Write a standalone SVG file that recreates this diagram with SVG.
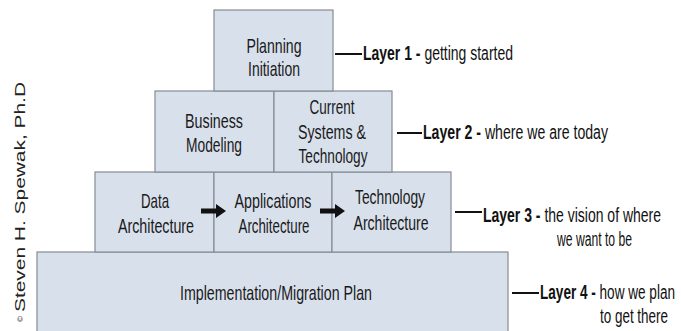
<svg xmlns="http://www.w3.org/2000/svg" width="681" height="331" viewBox="0 0 681 331">
<style>
.box{fill:#d8e0ec;stroke:#858c96;stroke-width:1.2}
.t{font-family:"Liberation Sans",Arial,sans-serif;font-size:21px;fill:#1a1a1a;text-anchor:middle}
.lbl{font-family:"Liberation Sans",Arial,sans-serif;font-size:20px;fill:#111}
.b{font-weight:bold}
.ln{stroke:#111;stroke-width:2}
.arr{fill:#111}
.cr{font-family:"Liberation Sans",Arial,sans-serif;font-size:14px;fill:#222}
</style>
<rect width="681" height="331" fill="#ffffff"/>
<g id="copyright">
<text class="cr" transform="translate(25,312) rotate(-90)" textLength="230" lengthAdjust="spacingAndGlyphs">Steven H. Spewak, Ph.D</text>
<text class="cr" style="font-size:8px" transform="translate(23,322) rotate(-90)">©</text>
</g>
<g id="layer4">
<rect class="box" x="37" y="252" width="471" height="85"/>
<text class="t" x="276" y="300" textLength="192" lengthAdjust="spacingAndGlyphs">Implementation/Migration Plan</text>
</g>
<g id="layer3-data">
<rect class="box" x="95" y="172" width="119" height="80"/>
<text class="t" x="155" y="208" textLength="28" lengthAdjust="spacingAndGlyphs">Data</text>
<text class="t" x="156" y="233" textLength="76" lengthAdjust="spacingAndGlyphs">Architecture</text>
</g>
<g id="layer3-apps">
<rect class="box" x="214" y="172" width="118" height="80"/>
<text class="t" x="273" y="208" textLength="77" lengthAdjust="spacingAndGlyphs">Applications</text>
<text class="t" x="274" y="233" textLength="71" lengthAdjust="spacingAndGlyphs">Architecture</text>
</g>
<g id="layer3-tech">
<rect class="box" x="332" y="172" width="119" height="80"/>
<text class="t" x="390" y="204" textLength="70" lengthAdjust="spacingAndGlyphs">Technology</text>
<text class="t" x="391" y="230" textLength="75" lengthAdjust="spacingAndGlyphs">Architecture</text>
</g>
<g id="layer2-business">
<rect class="box" x="155" y="91" width="119" height="81"/>
<text class="t" x="214" y="128" textLength="58" lengthAdjust="spacingAndGlyphs">Business</text>
<text class="t" x="214" y="152" textLength="56" lengthAdjust="spacingAndGlyphs">Modeling</text>
</g>
<g id="layer2-current">
<rect class="box" x="274" y="91" width="118" height="81"/>
<text class="t" x="332" y="114" textLength="45" lengthAdjust="spacingAndGlyphs">Current</text>
<text class="t" x="332" y="139" textLength="68" lengthAdjust="spacingAndGlyphs">Systems &amp;</text>
<text class="t" x="333" y="163" textLength="69" lengthAdjust="spacingAndGlyphs">Technology</text>
</g>
<g id="layer1-planning">
<rect class="box" x="214" y="10" width="119" height="81"/>
<text class="t" x="274" y="53" textLength="55" lengthAdjust="spacingAndGlyphs">Planning</text>
<text class="t" x="274" y="76" textLength="52" lengthAdjust="spacingAndGlyphs">Initiation</text>
</g>
<g id="connectors">
<path class="arr" d="M201,208.5 H216 V204 L226,211 L216,218 V213.5 H201 Z"/>
<path class="arr" d="M320,208.5 H335 V204 L345,211 L335,218 V213.5 H320 Z"/>
<line class="ln" x1="335" y1="54" x2="362" y2="54"/>
<line class="ln" x1="397" y1="133" x2="422" y2="133"/>
<line class="ln" x1="455" y1="212" x2="482" y2="212"/>
<line class="ln" x1="512" y1="293" x2="539" y2="293"/>
</g>
<g id="labels">
<text class="lbl" x="363" y="60" textLength="150" lengthAdjust="spacingAndGlyphs"><tspan class="b">Layer 1 -</tspan> getting started</text>
<text class="lbl" x="423" y="139" textLength="185" lengthAdjust="spacingAndGlyphs"><tspan class="b">Layer 2 -</tspan> where we are today</text>
<text class="lbl" x="483" y="222" textLength="178" lengthAdjust="spacingAndGlyphs"><tspan class="b">Layer 3 -</tspan> the vision of where</text>
<text class="lbl" x="557" y="246" textLength="75" lengthAdjust="spacingAndGlyphs">we want to be</text>
<text class="lbl" x="540" y="299" textLength="135" lengthAdjust="spacingAndGlyphs"><tspan class="b">Layer 4 -</tspan> how we plan</text>
<text class="lbl" x="600" y="323" textLength="68" lengthAdjust="spacingAndGlyphs">to get there</text>
</g>
</svg>
